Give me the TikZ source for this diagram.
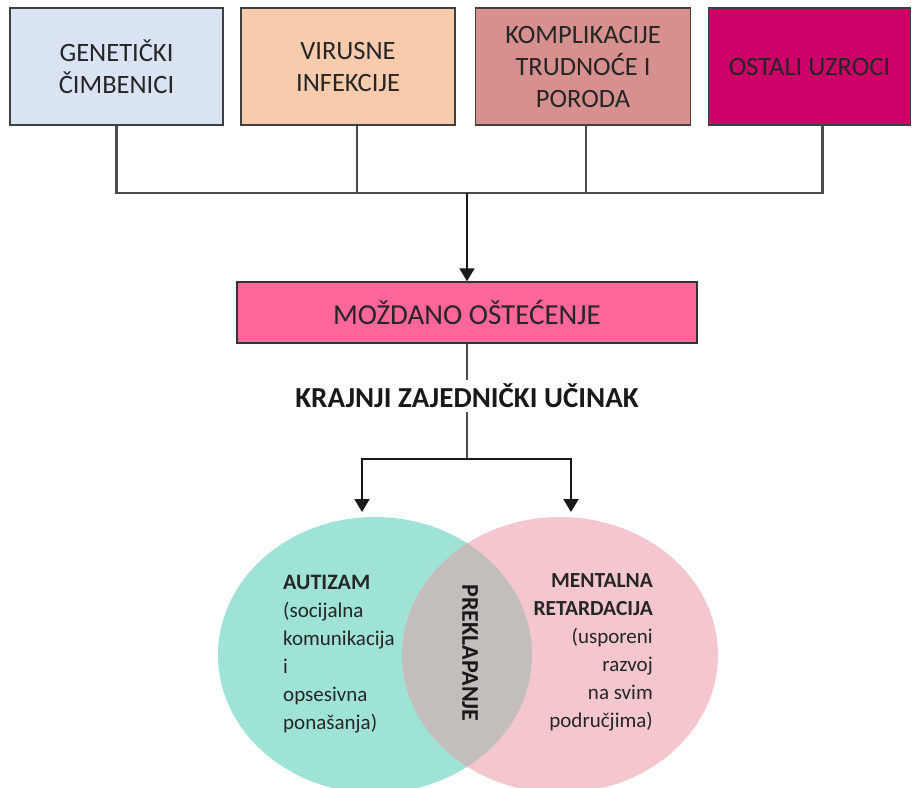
\documentclass[tikz,border=0pt]{standalone}
\usepackage{fontspec}
\setmainfont{Carlito}
\usetikzlibrary{arrows.meta}
\definecolor{cblue}{HTML}{DAE3F3}
\definecolor{cpeach}{HTML}{F8CBAD}
\definecolor{crose}{HTML}{D6908E}
\definecolor{cmag}{HTML}{CC0066}
\definecolor{cmid}{HTML}{FF6699}
\definecolor{cteal}{HTML}{9EE3D6}
\definecolor{cpink}{HTML}{F3C7CD}
\definecolor{cgrey}{HTML}{C3BEBB}
\begin{document}
\begin{tikzpicture}[x=1pt,y=-1pt,
  cause/.style={draw=black!75, line width=1.5pt, minimum height=117pt, inner sep=0pt,
    align=center, font=\fontsize{26.5}{32}\selectfont, text=black!85},
  link/.style={draw=black!70, line width=2.1pt},
  arr/.style={draw=black!90, line width=2.1pt, -{Triangle[width=15pt,length=13pt]}},
  circtext/.style={inner sep=0pt, font=\fontsize{21}{28}\selectfont, text=black!85}]
\useasboundingbox (0,0) rectangle (912,787);
% top boxes
\node[cause, fill=cblue, minimum width=213pt] (g) at (116.5,66.5) {GENETIČKI\\ČIMBENICI};
\node[cause, fill=cpeach, minimum width=214pt] (v) at (348,66.5) {VIRUSNE\\INFEKCIJE};
\node[cause, fill=crose, minimum width=215pt] (k) at (583,66.5) {KOMPLIKACIJE\\TRUDNOĆE I\\PORODA};
\node[cause, fill=cmag, minimum width=202pt] (o) at (809.5,66.5) {OSTALI UZROCI};
% tree
\coordinate (hub) at (467,193);
\draw[link] (g.south) |- (hub) -| ([xshift=13pt]o.south);
\draw[link] ([xshift=9pt]v.south) -- ([xshift=9pt]v.south |- hub);
\draw[link] ([xshift=3pt]k.south) -- ([xshift=3pt]k.south |- hub);
% middle box
\node[draw=black!80, line width=1.5pt, fill=cmid, minimum width=460pt, minimum height=61pt,
  font=\fontsize{29}{34}\selectfont, text=black!85] (m) at (467,312.5) {MOŽDANO OŠTEĆENJE};
\draw[arr] (hub) -- (m.north);
\node[font=\bfseries\fontsize{29}{34}\selectfont, inner sep=4pt, text=black!90] (e) at (467,396) {KRAJNJI ZAJEDNIČKI UČINAK};
\draw[link] (m.south) -- (e.north);
\coordinate (split) at (467,459);
\coordinate (la) at (362,512);
\coordinate (ra) at (571,512);
\draw[link] (e.south) -- (split);
\draw[arr] (split) -| (la);
\draw[arr] (split) -| (ra);
% circles
\fill[cteal] (375,655) ellipse [x radius=157pt, y radius=138pt];
\fill[cpink] (560,655) ellipse [x radius=158pt, y radius=138pt];
\begin{scope}
  \clip (375,655) ellipse [x radius=157pt, y radius=138pt];
  \fill[cgrey] (560,655) ellipse [x radius=158pt, y radius=138pt];
\end{scope}
\node[circtext, anchor=north west, align=left] (aut) at (283,575)
  {\textbf{\fontsize{22}{28}\selectfont AUTIZAM}\\(socijalna\\komunikacija\\i\\opsesivna\\ponašanja)};
\node[circtext, anchor=north east, align=right] (mr) at (653,573)
  {\textbf{\fontsize{21.5}{28}\selectfont MENTALNA}\\\textbf{\fontsize{21.5}{28}\selectfont RETARDACIJA}\\(usporeni\\razvoj\\na svim\\područjima)};
\node[rotate=-90, inner sep=0pt, font=\bfseries\fontsize{24}{28}\selectfont, text=black!90] (p) at (470,653) {PREKLAPANJE};
\end{tikzpicture}
\end{document}
